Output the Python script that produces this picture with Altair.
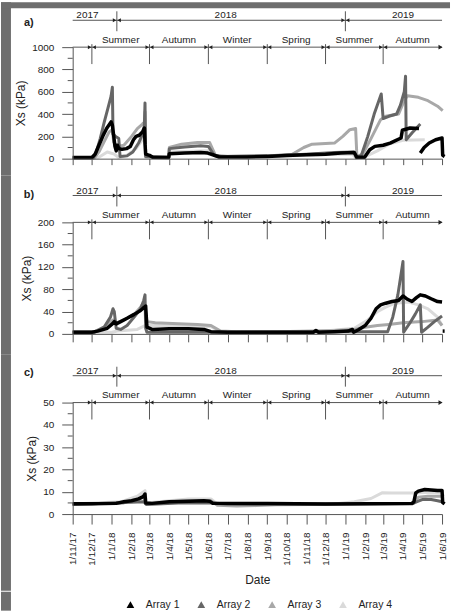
import altair as alt
import pandas as pd

FONT = "Liberation Sans"
AXIS_START = "2017-11-01"
AXIS_END = "2019-06-01"
MONTH_TICKS = ["2017-11-01", "2017-12-01", "2018-01-01", "2018-02-01", "2018-03-01",
               "2018-04-01", "2018-05-01", "2018-06-01", "2018-07-01", "2018-08-01",
               "2018-09-01", "2018-10-01", "2018-11-01", "2018-12-01", "2019-01-01",
               "2019-02-01", "2019-03-01", "2019-04-01", "2019-05-01", "2019-06-01"]
YEAR_BOUNDS = ["2018-01-09", "2019-01-01"]
YEAR_LABELS = ["2017", "2018", "2019"]
YEAR_LABEL_DATES = ["2017-11-24", "2018-06-28", "2019-04-01"]
SEASON_BOUNDS = ["2017-12-01", "2018-03-01", "2018-06-01", "2018-09-01", "2018-12-01", "2019-03-01"]
SEASON_LABELS = ["Summer", "Autumn", "Winter", "Spring", "Summer", "Autumn"]
SEASON_LABEL_DATES = ["2018-01-15", "2018-04-16", "2018-07-16", "2018-10-16", "2019-01-15", "2019-04-16"]

SERIES_NAMES = ["Array 1", "Array 2", "Array 3", "Array 4"]
SERIES_COLORS = ["#000000", "#666666", "#a8a8a8", "#dadada"]

# ---------------- panel a ----------------
A_ARRAY1 = [("2017-11-01", 10), ("2017-12-01", 10), ("2017-12-06", 40), ("2017-12-12", 120), ("2017-12-18", 200),
            ("2017-12-24", 270), ("2017-12-31", 330), ("2018-01-02", 300), ("2018-01-04", 210), ("2018-01-06", 110),
            ("2018-01-08", 70), ("2018-01-10", 120), ("2018-01-12", 90), ("2018-01-17", 85), ("2018-01-24", 90),
            ("2018-01-30", 110), ("2018-02-04", 170), ("2018-02-08", 200), ("2018-02-13", 210), ("2018-02-18", 240),
            ("2018-02-21", 275), ("2018-02-22", 130), ("2018-02-23", 40), ("2018-03-01", 30), ("2018-03-06", 12),
            ("2018-03-31", 10), ("2018-04-01", 45), ("2018-04-25", 50), ("2018-05-20", 55), ("2018-05-31", 50),
            ("2018-06-08", 35), ("2018-06-18", 15), ("2018-08-01", 15), ("2018-09-01", 20), ("2018-10-01", 28),
            ("2018-11-01", 35), ("2018-12-01", 40), ("2018-12-25", 50), ("2019-01-15", 55), ("2019-01-19", 12),
            ("2019-01-31", 12), ("2019-02-08", 80), ("2019-02-16", 110), ("2019-03-01", 120), ("2019-03-12", 140),
            ("2019-03-29", 185), ("2019-03-31", 255), ("2019-04-12", 275), ("2019-04-26", 270), None,
            ("2019-04-28", 50), ("2019-05-04", 100), ("2019-05-12", 140), ("2019-05-22", 170), ("2019-06-01", 185),
            ("2019-06-02", 30), ("2019-06-05", 20)]
A_ARRAY2 = [("2017-11-01", 5), ("2017-12-03", 5), ("2017-12-08", 60), ("2017-12-14", 180), ("2017-12-20", 320),
            ("2017-12-26", 450), ("2017-12-31", 560), ("2018-01-02", 640), ("2018-01-03", 220), ("2018-01-07", 200),
            ("2018-01-12", 180), ("2018-01-14", 20), ("2018-01-25", 25), ("2018-02-03", 60), ("2018-02-12", 140),
            ("2018-02-19", 230), ("2018-02-21", 300), ("2018-02-22", 500), ("2018-02-23", 20), ("2018-03-31", 10),
            ("2018-04-01", 90), ("2018-04-25", 105), ("2018-05-20", 115), ("2018-06-01", 110), ("2018-06-10", 30),
            ("2018-06-20", 20), ("2018-09-01", 25), ("2018-11-01", 40), ("2018-12-15", 55), ("2019-01-14", 60),
            ("2019-01-18", 10), ("2019-01-26", 30), ("2019-02-05", 200), ("2019-02-15", 400), ("2019-02-26", 580),
            ("2019-03-01", 360), ("2019-03-10", 380), ("2019-03-22", 400), ("2019-03-28", 480), ("2019-04-03", 600),
            ("2019-04-05", 740), ("2019-04-06", 170), ("2019-04-15", 230), ("2019-04-28", 310)]
A_ARRAY3 = [("2017-11-01", 5), ("2017-12-05", 5), ("2017-12-12", 60), ("2017-12-20", 150), ("2017-12-28", 240),
            ("2018-01-02", 260), ("2018-01-04", 150), ("2018-01-10", 110), ("2018-01-20", 120), ("2018-02-01", 200),
            ("2018-02-10", 270), ("2018-02-18", 310), ("2018-02-21", 330), ("2018-02-22", 420), ("2018-02-23", 20),
            ("2018-03-31", 15), ("2018-04-01", 100), ("2018-04-20", 130), ("2018-05-15", 145), ("2018-06-03", 145),
            ("2018-06-12", 30), ("2018-07-01", 20), ("2018-09-01", 25), ("2018-10-10", 40), ("2018-10-28", 100),
            ("2018-11-10", 130), ("2018-12-15", 140), ("2018-12-28", 200), ("2019-01-08", 260), ("2019-01-17", 270),
            ("2019-01-19", 20), ("2019-01-28", 40), ("2019-02-10", 180), ("2019-02-25", 350), ("2019-03-05", 380),
            ("2019-03-25", 400), ("2019-04-03", 520), ("2019-04-08", 565), ("2019-04-25", 550), ("2019-05-10", 520),
            ("2019-05-25", 470), ("2019-06-02", 430)]
A_ARRAY4 = [("2017-11-01", 5), ("2017-12-10", 5), ("2017-12-25", 60), ("2018-01-05", 40), ("2018-01-12", 10),
            ("2018-01-25", 30), ("2018-02-08", 90), ("2018-02-18", 170), ("2018-02-22", 210), ("2018-02-23", 10),
            ("2018-03-31", 10), ("2018-04-01", 60), ("2018-06-01", 70), ("2018-06-12", 20), ("2018-09-01", 20),
            ("2018-11-01", 30), ("2018-12-15", 40), ("2019-01-12", 40), ("2019-01-18", 5), ("2019-02-05", 30),
            ("2019-02-20", 70), ("2019-03-10", 130), ("2019-04-01", 165), ("2019-05-05", 170)]

# ---------------- panel b ----------------
B_ARRAY1 = [("2017-11-01", 3), ("2017-12-01", 3), ("2017-12-10", 5), ("2017-12-25", 10), ("2018-01-02", 18),
            ("2018-01-05", 22), ("2018-01-08", 18), ("2018-01-15", 22), ("2018-01-25", 28), ("2018-02-05", 35),
            ("2018-02-15", 42), ("2018-02-21", 48), ("2018-02-23", 50), ("2018-02-25", 12), ("2018-03-05", 8),
            ("2018-04-01", 9), ("2018-05-01", 9), ("2018-05-25", 8), ("2018-06-05", 4), ("2018-07-01", 3),
            ("2018-10-01", 3), ("2018-11-12", 3), ("2018-11-16", 6), ("2018-11-20", 3), ("2018-12-15", 4),
            ("2019-01-05", 5), ("2019-01-12", 8), ("2019-01-14", 3), ("2019-01-22", 8), ("2019-02-01", 15),
            ("2019-02-10", 28), ("2019-02-18", 45), ("2019-02-25", 52), ("2019-03-05", 55), ("2019-03-15", 58),
            ("2019-03-25", 60), ("2019-04-01", 68), ("2019-04-08", 62), ("2019-04-15", 58), ("2019-04-22", 65),
            ("2019-04-28", 70), ("2019-05-06", 68), ("2019-05-15", 63), ("2019-05-25", 58), ("2019-06-01", 57),
            None, ("2019-06-02", 5), ("2019-06-05", 5)]
B_ARRAY2 = [("2017-11-01", 3), ("2017-12-05", 3), ("2017-12-20", 12), ("2017-12-30", 30), ("2018-01-03", 45),
            ("2018-01-05", 40), ("2018-01-08", 10), ("2018-01-15", 8), ("2018-01-25", 15), ("2018-02-05", 30),
            ("2018-02-15", 45), ("2018-02-20", 60), ("2018-02-22", 70), ("2018-02-23", 10), ("2018-02-25", 3),
            ("2018-06-01", 3), ("2019-01-01", 4), ("2019-03-08", 4), ("2019-03-16", 30), ("2019-03-24", 70),
            ("2019-04-01", 130), ("2019-04-02", 3), ("2019-04-12", 20), ("2019-04-20", 35), ("2019-04-28", 52),
            ("2019-04-30", 3), ("2019-05-10", 12), ("2019-05-20", 22), ("2019-06-01", 32)]
B_ARRAY3 = [("2017-11-01", 4), ("2017-12-05", 4), ("2017-12-20", 12), ("2018-01-03", 25), ("2018-01-10", 20),
            ("2018-01-20", 25), ("2018-02-05", 35), ("2018-02-15", 48), ("2018-02-21", 58), ("2018-02-23", 40),
            ("2018-02-25", 22), ("2018-03-10", 20), ("2018-04-15", 18), ("2018-05-15", 17), ("2018-06-05", 15),
            ("2018-06-20", 5), ("2018-07-15", 4), ("2018-09-15", 4), ("2018-11-15", 5), ("2018-12-15", 6),
            ("2019-01-15", 8), ("2019-02-01", 12), ("2019-02-20", 15), ("2019-03-10", 17), ("2019-04-01", 20),
            ("2019-05-01", 22), ("2019-05-25", 25), ("2019-06-01", 15)]
B_ARRAY4 = [("2017-11-01", 3), ("2018-01-01", 3), ("2018-01-10", 5), ("2018-02-10", 8), ("2018-02-22", 15),
            ("2018-03-15", 15), ("2018-06-05", 13), ("2018-06-20", 4), ("2018-10-01", 4), ("2018-12-01", 5),
            ("2019-01-15", 10), ("2019-02-05", 25), ("2019-02-20", 40), ("2019-03-05", 48), ("2019-03-20", 55),
            ("2019-04-10", 57), ("2019-04-25", 52), ("2019-05-10", 45), ("2019-05-25", 30), ("2019-06-01", 15)]

# ---------------- panel c ----------------
C_ARRAY1 = [("2017-11-01", 4.6), ("2017-12-01", 4.6), ("2018-01-08", 4.8), ("2018-01-20", 5.5), ("2018-02-01", 6.0),
            ("2018-02-12", 6.8), ("2018-02-19", 7.8), ("2018-02-22", 9.0), ("2018-02-23", 5.0), ("2018-03-05", 4.8),
            ("2018-04-01", 5.5), ("2018-05-01", 5.8), ("2018-05-25", 6.0), ("2018-06-03", 5.8), ("2018-06-08", 4.8),
            ("2018-09-01", 4.7), ("2018-12-01", 4.5), ("2019-04-15", 4.8), ("2019-04-18", 5.5), ("2019-04-21", 9.5),
            ("2019-04-25", 10.3), ("2019-05-05", 11.0), ("2019-05-15", 10.8), ("2019-05-25", 10.6),
            ("2019-06-01", 10.6), ("2019-06-02", 5.2), ("2019-06-05", 4.6)]
C_ARRAY2 = [("2017-11-01", 4.3), ("2018-02-20", 5.5), ("2018-02-24", 4.3), ("2018-04-15", 5.0), ("2018-06-05", 5.0),
            ("2018-07-01", 4.5), ("2019-04-15", 4.6), ("2019-04-22", 5.5), ("2019-05-01", 6.5), ("2019-05-15", 6.5),
            ("2019-05-25", 6.0), ("2019-06-01", 5.5)]
C_ARRAY3 = [("2017-11-01", 4.5), ("2018-01-20", 5.0), ("2018-02-20", 7.5), ("2018-02-24", 4.5), ("2018-04-01", 5.5),
            ("2018-05-01", 6.0), ("2018-06-05", 6.0), ("2018-06-15", 4.0), ("2018-07-15", 3.6), ("2018-08-15", 3.8),
            ("2018-09-15", 4.2), ("2019-04-15", 4.6), ("2019-04-18", 5.0), ("2019-04-25", 7.5), ("2019-05-10", 8.0),
            ("2019-06-01", 8.0)]
C_ARRAY4 = [("2017-11-01", 4.5), ("2018-01-15", 5.5), ("2018-02-10", 8.0), ("2018-02-22", 10.5), ("2018-02-24", 5.0),
            ("2018-04-01", 6.0), ("2018-05-01", 6.8), ("2018-06-05", 6.8), ("2018-06-15", 4.5), ("2018-12-15", 4.5),
            ("2019-01-15", 5.5), ("2019-02-10", 7.0), ("2019-02-28", 9.6), ("2019-03-15", 9.4), ("2019-04-15", 9.5),
            ("2019-05-15", 9.8), ("2019-06-01", 9.5), ("2019-06-03", 8.0)]

A_YTICKS = [0, 200, 400, 600, 800, 1000]
A_YMINOR = [100, 300, 500, 700, 900]
B_YTICKS = [0, 40, 80, 120, 160, 200]
B_YMINOR = [20, 60, 100, 140, 180]
C_YTICKS = [0, 10, 20, 30, 40, 50]
C_YMINOR = [5, 15, 25, 35, 45]

W = 371
H = 112
EDGE = -72        # page left edge relative to plot origin
LEFT = -62        # white area starts here (gray strip between EDGE and LEFT)
RIGHT = 379
GRAY = "#6e6e6e"
LINE_COL = "#555555"
TEXT_COL = "#222222"


def ms(s):
    return int(pd.Timestamp(s, tz="UTC").value // 10**6)


def to_df(points):
    rows, seg = [], 0
    for p in points:
        if p is None:
            seg += 1
            continue
        rows.append({"date": p[0], "v": p[1], "seg": seg})
    return pd.DataFrame(rows)


def frame_layers(rect_top, rect_bot, top_strip=None):
    one = pd.DataFrame({"k": [0]})
    top = rect_top if top_strip is None else top_strip
    out = [
        alt.Chart(one).mark_rect(opacity=0).encode(
            x=alt.value(EDGE), x2=alt.value(RIGHT), y=alt.value(top), y2=alt.value(rect_bot)),
        alt.Chart(one).mark_rect(color=GRAY, opacity=1).encode(
            x=alt.value(EDGE), x2=alt.value(LEFT), y=alt.value(top), y2=alt.value(rect_bot)),
    ]
    if top_strip is not None:
        out.append(alt.Chart(one).mark_rect(color=GRAY, opacity=1).encode(
            x=alt.value(EDGE), x2=alt.value(RIGHT), y=alt.value(top_strip), y2=alt.value(rect_top)))
    return out


def panel(letter, letter_y, series, ydom, yticks, yminor, rect_top, rect_bot, tick_len, show_x, top_strip=None):
    xscale = alt.Scale(type="utc", domain=[ms(AXIS_START), ms(AXIS_END)])
    yscale = alt.Scale(domain=ydom, nice=False, zero=True)
    xaxis = alt.Axis(values=[ms(d) for d in MONTH_TICKS], format="%-d/%-m/%y", labels=show_x,
                     labelAngle=270, labelFontSize=10, labelPadding=8, labelOverlap=False,
                     labelFont=FONT, labelColor=TEXT_COL, tickSize=tick_len, grid=False,
                     domainColor=LINE_COL, tickColor=LINE_COL, zindex=1,
                     title="Date" if show_x else None, titleFont=FONT, titleFontSize=12,
                     titleFontWeight="normal", titleColor=TEXT_COL, titlePadding=9)
    yaxis = alt.Axis(values=yticks, format="d", tickSize=11, labelPadding=8, labelFont=FONT, labelFontSize=10,
                     labelColor=TEXT_COL, grid=False, domainColor=LINE_COL, tickColor=LINE_COL,
                     title="Xs (kPa)", titleFont=FONT, titleFontSize=12, titleFontWeight="normal",
                     titleColor=TEXT_COL, titlePadding=4, zindex=1)

    def X(field):
        return alt.X(field, scale=xscale, axis=xaxis)

    def Y(field):
        return alt.Y(field, scale=yscale, axis=yaxis)

    layers = frame_layers(rect_top, rect_bot, top_strip)
    for idx in [3, 2, 1, 0]:
        df = to_df(series[idx])
        sw = 3.5 if idx == 0 else 3
        layers.append(alt.Chart(df).mark_line(color=SERIES_COLORS[idx], strokeWidth=sw, clip=False,
                                              strokeJoin="round").encode(
            x=X("date:T"), y=Y("v:Q"), detail="seg:N"))

    layers.append(alt.Chart(pd.DataFrame({"v": yminor})).mark_rule(color=LINE_COL).encode(
        y=Y("v:Q"), x=alt.value(-5), x2=alt.value(0)))

    span = pd.DataFrame({"s": [AXIS_START], "e": [AXIS_END]})
    layers.append(alt.Chart(span).mark_rule(color=LINE_COL).encode(
        x=X("s:T"), x2=alt.X2("e"), y=alt.value(-27)))
    layers.append(alt.Chart(span).mark_rule(color=LINE_COL).encode(
        x=X("s:T"), x2=alt.X2("e"), y=alt.value(0)))
    layers.append(alt.Chart(span).mark_point(shape="triangle-right", filled=True, size=22, color=TEXT_COL,
                                             opacity=1, xOffset=-1.5).encode(x=X("e:T"), y=alt.value(0)))

    yb = pd.DataFrame({"d": YEAR_BOUNDS})
    sb = pd.DataFrame({"d": SEASON_BOUNDS})
    layers.append(alt.Chart(yb).mark_rule(color=LINE_COL).encode(
        x=X("d:T"), y=alt.value(-36), y2=alt.value(-16)))
    layers.append(alt.Chart(sb).mark_rule(color=LINE_COL).encode(
        x=X("d:T"), y=alt.value(-3), y2=alt.value(17)))
    for dfb, yy in ((yb, -27), (sb, 0)):
        for shape, off in (("triangle-right", -2.3), ("triangle-left", 2.3)):
            layers.append(alt.Chart(dfb).mark_point(shape=shape, filled=True, size=16, color=TEXT_COL,
                                                    opacity=1, xOffset=off).encode(x=X("d:T"), y=alt.value(yy)))

    yl = pd.DataFrame({"d": YEAR_LABEL_DATES, "t": YEAR_LABELS})
    sl = pd.DataFrame({"d": SEASON_LABEL_DATES, "t": SEASON_LABELS})
    layers.append(alt.Chart(yl).mark_text(font=FONT, fontSize=10, color=TEXT_COL, baseline="middle").encode(
        x=X("d:T"), y=alt.value(-32), text="t:N"))
    layers.append(alt.Chart(sl).mark_text(font=FONT, fontSize=10, color=TEXT_COL, baseline="middle").encode(
        x=X("d:T"), y=alt.value(-7.5), text="t:N"))
    layers.append(alt.Chart(pd.DataFrame({"k": [0]})).mark_text(
        font=FONT, fontSize=11, fontWeight="bold", color=TEXT_COL, baseline="middle").encode(
        x=alt.value(-44), y=alt.value(letter_y), text=alt.value(letter)))

    return alt.layer(*layers).properties(width=W, height=H)


pa = panel("a)", -24, [A_ARRAY1, A_ARRAY2, A_ARRAY3, A_ARRAY4], [0, 1000], A_YTICKS, A_YMINOR,
           -39, 129, 6, False, top_strip=-45)
pb = panel("b)", -27, [B_ARRAY1, B_ARRAY2, B_ARRAY3, B_ARRAY4], [0, 200], B_YTICKS, B_YMINOR,
           -47, 133, 8, False)
pc = panel("c)", -30, [C_ARRAY1, C_ARRAY2, C_ARRAY3, C_ARRAY4], [0, 50], C_YTICKS, C_YMINOR,
           -48, 189, 10, True)

leg_df = pd.DataFrame({"label": SERIES_NAMES})
leg_x = alt.X("label:N", scale=alt.Scale(type="point", domain=SERIES_NAMES, range=[58, 271.5], padding=0),
              axis=None)
leg_pts = alt.Chart(leg_df).mark_point(shape="triangle-up", filled=True, size=60, opacity=1).encode(
    x=leg_x, y=alt.value(13),
    color=alt.Color("label:N", scale=alt.Scale(domain=SERIES_NAMES, range=SERIES_COLORS), legend=None))
leg_txt = alt.Chart(leg_df).mark_text(font=FONT, fontSize=10.5, color=TEXT_COL, align="left", dx=15.5,
                                      baseline="middle").encode(x=leg_x, y=alt.value(13), text="label:N")
pleg = alt.layer(*frame_layers(0, 19), leg_pts, leg_txt).properties(width=W, height=19)

chart = alt.vconcat(pa, pb, pc, pleg, spacing=-2).resolve_scale(
    x="independent", y="independent", color="independent"
).properties(
    padding={"left": 0, "top": 0, "right": 0, "bottom": 0},
    background="white",
).configure_view(stroke="transparent")

chart.save("out.html", embed_options={"renderer": "svg", "actions": False})
